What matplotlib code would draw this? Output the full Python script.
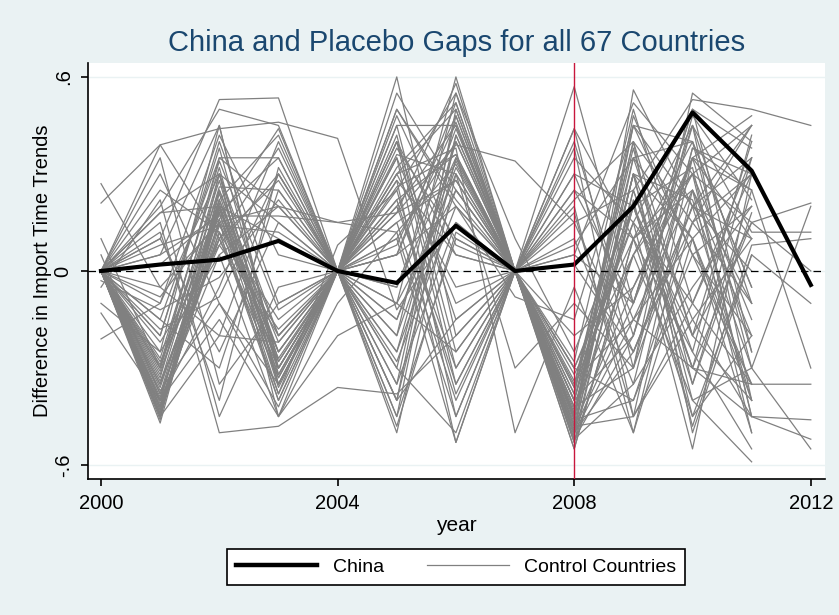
import numpy as np
import matplotlib

matplotlib.use("Agg")
import matplotlib.pyplot as plt  # noqa: E402
from matplotlib.lines import Line2D  # noqa: E402

plt.rcParams["font.family"] = ["Liberation Sans", "DejaVu Sans"]

years = list(range(2000, 2013))
treat_year = 2008
china_gap = [0.0, 0.02, 0.035, 0.093, 0.0, -0.037, 0.14, 0.0, 0.02, 0.20, 0.49, 0.31, -0.043]

# one row per control country, 2000..2012 (None = no data)
control_gaps = [
    [0, .39, .44, .46, .41, -.12, .15, 0, -.30, .10, .25, -.20, None],
    [0, .10, .53, .535, 0, .20, .45, 0, -.45, .30, .10, -.35, None],
    [.27, -.05, .15, .20, .15, .18, .39, .34, .15, .25, .53, .50, .45],
    [.21, .39, .10, -.30, 0, .40, .05, 0, .57, -.10, .35, .48, None],
    [0, -.45, -.20, .30, 0, -.10, .60, 0, -.50, .56, .20, -.40, None],
    [0, -.40, .20, -.35, 0, .60, -.20, 0, .44, -.30, .55, .40, None],
    [0, -.42, .18, -.32, 0, .35, -.10, 0, -.48, .20, -.35, .25, None],
    [0, -.38, .22, -.30, 0, .30, .50, 0, -.52, -.20, .45, -.10, None],
    [0, -.35, .15, -.28, 0, -.40, .35, 0, -.40, .35, -.20, .15, None],
    [0, -.30, .25, -.25, 0, .25, -.38, 0, -.55, .10, .30, -.45, None],
    [0, -.44, .12, -.38, 0, -.30, .42, 0, -.46, -.40, .15, .30, None],
    [0, -.47, .20, .10, 0, .45, -.25, 0, -.35, .40, -.50, .05, None],
    [0, -.33, .30, -.20, 0, -.20, .55, 0, -.43, .05, .40, -.30, -.55],
    [0, -.28, .10, -.33, 0, .15, .28, 0, -.50, -.25, .20, .35, None],
    [0, -.40, -.05, .40, 0, -.50, .30, 0, .38, -.45, -.15, .10, None],
    [0, -.36, .18, .35, 0, .10, -.53, 0, -.30, .15, .50, -.25, None],
    [-.10, -.25, .05, -.45, 0, .50, .20, 0, -.45, .30, -.40, -.59, None],
    [0, -.20, .40, -.10, 0, -.35, .48, 0, .30, -.15, .10, -.50, None],
    [0, -.15, -.30, .25, 0, .22, .36, 0, -.38, .45, .05, .20, None],
    [0, .15, -.50, -.48, -.36, -.38, -.20, 0, .20, -.50, .25, -.10, None],
    [-.13, -.40, -.15, -.45, -.20, -.10, .25, 0, -.42, .20, -.30, -.45, -.46],
    [-.21, -.10, .30, .15, 0, -.45, .10, 0, .10, -.35, .38, .30, None],
    [0, .20, .50, .45, 0, .40, -.35, 0, -.53, .25, -.25, .42, None],
    [0, .05, .17, .17, .15, .12, .33, 0, .25, -.10, .45, .12, .12],
    [0, -.45, .25, -.20, 0, .05, .52, 0, -.28, .50, -.10, -.35, None],
    [0, .30, -.10, -.35, 0, .35, -.45, 0, -.48, -.05, .30, .45, None],
    [.10, -.30, .35, .20, 0, -.25, .40, 0, .44, .10, -.45, -.20, None],
    [0, -.42, .15, -.40, 0, .28, .05, 0, -.50, .35, .40, -.05, None],
    [0, .12, -.40, .32, 0, -.15, .30, -.30, -.10, -.30, .20, .10, None],
    [0, -.25, .45, -.30, 0, .20, -.30, 0, -.36, .15, -.55, .30, None],
    [.05, -.38, .10, .28, 0, .45, .45, 0, -.40, -.20, .35, .25, None],
    [0, .18, .20, -.25, 0, -.40, -.15, 0, .22, .40, -.20, -.40, None],
    [0, -.05, -.20, -.22, 0, .30, .38, -.50, -.05, -.50, .10, .30, None],
    [0, -.32, .22, .42, 0, .15, -.40, 0, -.44, .30, .22, -.30, .20],
    [0, .08, .14, -.15, 0, -.20, .32, 0, .05, -.10, .50, .38, None],
    [0, -.46, .30, -.30, 0, .50, .22, 0, -.52, -.35, -.05, .20, None],
    [-.05, .22, -.45, -.05, 0, .08, .48, 0, -.32, .05, .30, -.15, None],
    [0, -.34, .08, .30, 0, -.30, -.50, 0, .30, .20, -.30, -.35, -.35],
    [0, -.20, .38, -.28, 0, .38, .10, 0, -.46, .45, .20, .00, None],
    [0, .02, .18, -.38, .08, .25, .55, .10, -.25, .20, -.20, .40, None],
    [0, -.40, .05, .20, 0, -.05, .35, 0, -.48, -.45, .35, -.25, None],
    [0, -.30, .28, -.35, 0, .40, -.15, 0, .15, -.25, .15, .45, None],
    [0, .10, -.25, .15, 0, -.45, .42, 0, -.40, .30, -.45, .05, -.10],
    [0, -.43, .16, -.25, 0, .18, .28, 0, -.55, .10, .45, -.40, None],
    [0, -.15, .35, .35, 0, -.10, -.25, 0, .35, .15, -.10, .30, None],
    [0, -.37, -.10, -.42, 0, .32, .52, 0, -.38, .38, -.35, .18, None],
    [0, .25, .12, -.20, 0, .05, .20, -.08, -.15, .45, .40, -.05, None],
    [0, -.44, .24, -.33, 0, -.35, .15, 0, -.50, -.15, .25, -.50, None],
    [0, -.10, .42, .05, 0, .28, -.53, 0, .05, .52, .30, .15, .21],
    [0, -.31, .20, -.30, 0, .10, .40, 0, -.44, .25, -.30, .35, None],
    [0, .35, -.35, -.10, 0, -.25, .25, 0, -.30, -.40, .05, -.20, None],
    [0, -.42, .10, .38, 0, .22, -.35, 0, .40, -.20, .48, .22, None],
    [0, -.27, .32, -.35, 0, .48, .08, 0, -.47, .30, -.15, -.45, -.52],
    [-.03, -.12, -.02, .22, 0, -.05, .44, 0, -.20, -.05, .35, .10, None],
    [0, -.39, .19, -.27, 0, .36, .30, 0, -.53, .05, -.40, -.30, None],
    [0, .18, .30, -.45, -.10, .12, -.45, 0, .08, .35, .10, -.40, None],
    [0, -.45, .14, .12, 0, -.40, .50, 0, -.42, -.30, .38, .25, -.30],
    [0, -.22, .08, -.18, 0, .30, -.05, 0, .25, .10, -.25, -.55, None],
    [0, -.35, .26, .25, 0, -.15, .34, 0, -.36, .40, .15, -.10, None],
    [0, .05, .45, -.32, 0, .55, .25, 0, -.49, -.10, .50, .30, None],
    [0, -.41, .12, -.40, 0, .05, .46, 0, .18, -.45, -.10, .35, None],
    [0, -.18, -.08, .30, 0, -.28, .20, 0, -.40, .20, .32, -.45, None],
    [0, -.43, .22, -.22, 0, .42, -.30, 0, -.51, .22, -.48, .08, .10],
    [0, -.08, .16, .44, 0, .18, .58, 0, .02, -.25, .20, .45, None],
    [0, -.29, .34, -.12, 0, -.48, .12, 0, -.45, .48, .05, -.35, None],
    [0, -.40, .21, -.36, 0, .26, .36, 0, -.34, -.15, -.30, .15, .00],
]

BG = "#eaf2f3"
GRAY = "#808080"

fig = plt.figure(figsize=(8.39, 6.15), dpi=100, facecolor=BG)
ax = fig.add_axes([88 / 839, 1 - 479 / 615, 737 / 839, 416 / 615])
ax.set_facecolor("white")

gaps = np.array(control_gaps, dtype=float)
for row in gaps:
    ax.plot(years, row, color=GRAY, lw=0.9, zorder=2)
ax.plot(years, china_gap, color="black", lw=3.0, zorder=4)

ax.axhline(0, color="black", lw=0.9, ls=(0, (6, 4)), zorder=3)
ax.axvline(treat_year, color="#c8173d", lw=1.0, zorder=5)

ax.set_xlim(1999.78, 2012.24)
ax.set_ylim(-0.643, 0.643)
ax.set_xticks([2000, 2004, 2008, 2012])
ax.set_yticks([-0.6, 0, 0.6])
ax.set_yticklabels(["-.6", "0", ".6"], rotation=90, va="center")
ax.grid(axis="y", color=BG, lw=1.0, zorder=0)
ax.tick_params(axis="both", labelsize=14.5, length=5, width=1.2,
               direction="out", pad=6)

for side in ("top", "right"):
    ax.spines[side].set_visible(False)
for side in ("left", "bottom"):
    ax.spines[side].set_linewidth(1.2)

ax.set_xlabel("year", fontsize=15, labelpad=2)
ax.set_ylabel("Difference in Import Time Trends", fontsize=14.5, labelpad=1)
fig.text(457 / 839, 1 - 43 / 615, "China and Placebo Gaps for all 67 Countries",
         ha="center", va="center", fontsize=21, color="#1a476f")

handles = [Line2D([], [], color="black", lw=3.2),
           Line2D([], [], color=GRAY, lw=0.9)]
leg = fig.legend(handles, ["China", "Control Countries"], loc="center",
                 bbox_to_anchor=(456 / 839, 1 - 567 / 615), ncol=2,
                 fancybox=False, edgecolor="black", framealpha=1,
                 fontsize=14, handlelength=4.2, handletextpad=0.8,
                 columnspacing=2.2, borderpad=0.45)
leg.get_frame().set_linewidth(1.2)

fig.savefig("out.png", dpi=100, facecolor=BG)
